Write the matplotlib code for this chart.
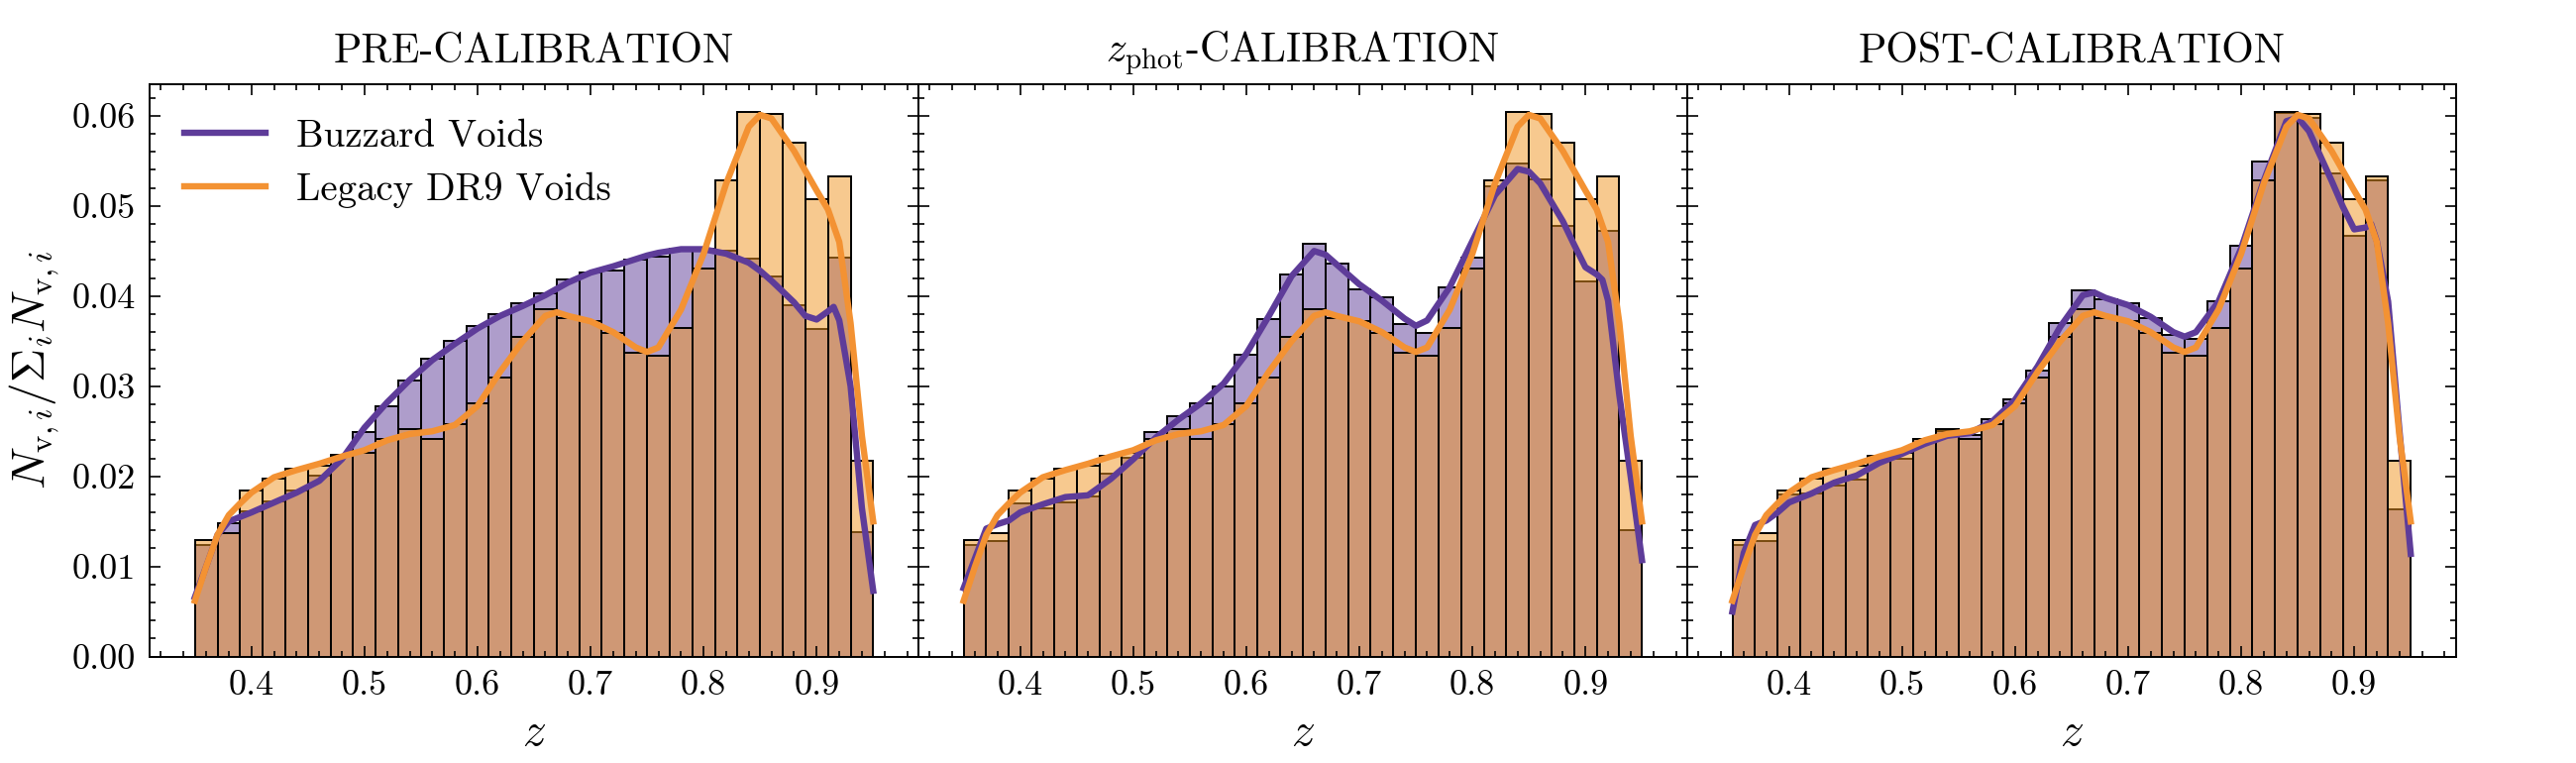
import numpy as np
import matplotlib
matplotlib.use("Agg")
import matplotlib.pyplot as plt
from matplotlib.colors import to_rgba
from matplotlib.ticker import MultipleLocator, FormatStrFormatter

plt.rcParams["font.family"] = ["cmr10", "DejaVu Serif"]
plt.rcParams["mathtext.fontset"] = "cm"
plt.rcParams["axes.formatter.use_mathtext"] = True

# histogram bins (z) and normalised void counts
edges = np.round(np.arange(0.35, 0.9501, 0.02), 2)
centres = 0.5 * (edges[:-1] + edges[1:])

legacy = [0.0129, 0.0137, 0.0184, 0.0198, 0.0209, 0.0212, 0.0223, 0.0226, 0.0241, 0.0252,
          0.0242, 0.0258, 0.0281, 0.0310, 0.0355, 0.0386, 0.0376, 0.0372, 0.0359, 0.0337,
          0.0334, 0.0365, 0.0430, 0.0528, 0.0604, 0.0602, 0.0570, 0.0507, 0.0533, 0.0217]
buzz_pre = [0.0124, 0.0148, 0.0161, 0.0172, 0.0184, 0.0201, 0.0224, 0.0249, 0.0278, 0.0306,
            0.0331, 0.0350, 0.0367, 0.0380, 0.0392, 0.0403, 0.0418, 0.0426, 0.0428, 0.0440,
            0.0444, 0.0452, 0.0452, 0.0450, 0.0441, 0.0422, 0.0390, 0.0364, 0.0443, 0.0138]
buzz_zphot = [0.0124, 0.0128, 0.0170, 0.0165, 0.0171, 0.0178, 0.0203, 0.0221, 0.0249, 0.0267,
              0.0281, 0.0300, 0.0335, 0.0374, 0.0424, 0.0458, 0.0436, 0.0408, 0.0399, 0.0369,
              0.0359, 0.0410, 0.0443, 0.0522, 0.0547, 0.0530, 0.0478, 0.0416, 0.0472, 0.0140]
buzz_post = [0.0124, 0.0128, 0.0180, 0.0181, 0.0190, 0.0196, 0.0222, 0.0220, 0.0241, 0.0250,
             0.0246, 0.0264, 0.0285, 0.0317, 0.0370, 0.0406, 0.0396, 0.0392, 0.0376, 0.0357,
             0.0353, 0.0394, 0.0456, 0.0549, 0.0603, 0.0598, 0.0536, 0.0467, 0.0528, 0.0163]

# smooth density curves
legacy_kde_z = [0.35, 0.36, 0.37, 0.38, 0.39, 0.40, 0.42, 0.44, 0.46, 0.48, 0.50, 0.52, 0.54,
                0.56, 0.58, 0.60, 0.62, 0.64, 0.66, 0.67, 0.68, 0.70, 0.72, 0.74, 0.75, 0.76,
                0.78, 0.80, 0.82, 0.84, 0.85, 0.86, 0.88, 0.90, 0.91, 0.92, 0.93, 0.94, 0.95]
legacy_kde = [0.0062, 0.0100, 0.0135, 0.0157, 0.0170, 0.0182, 0.0199, 0.0207, 0.0214, 0.0222,
              0.0229, 0.0240, 0.0247, 0.0250, 0.0257, 0.0278, 0.0316, 0.0350, 0.0378, 0.0382,
              0.0378, 0.0372, 0.0360, 0.0343, 0.0338, 0.0343, 0.0385, 0.0447, 0.0525, 0.0588,
              0.0601, 0.0597, 0.0561, 0.0517, 0.0496, 0.0460, 0.0370, 0.0245, 0.0150]

buzz_kde_z = [0.35, 0.36, 0.37, 0.38, 0.39, 0.40, 0.42, 0.44, 0.46, 0.48, 0.50, 0.52, 0.54,
              0.56, 0.58, 0.60, 0.62, 0.64, 0.66, 0.67, 0.68, 0.70, 0.72, 0.74, 0.75, 0.76,
              0.78, 0.80, 0.82, 0.84, 0.85, 0.86, 0.88, 0.89, 0.90, 0.91, 0.915, 0.92, 0.93,
              0.94, 0.95]
buzz_kde_pre = [0.0066, 0.0100, 0.0135, 0.0150, 0.0155, 0.0160, 0.0171, 0.0182, 0.0195, 0.0219,
                0.0254, 0.0282, 0.0307, 0.0329, 0.0347, 0.0364, 0.0378, 0.0389, 0.0401, 0.0408,
                0.0415, 0.0426, 0.0433, 0.0441, 0.0445, 0.0448, 0.0452, 0.0452, 0.0447, 0.0437,
                0.0428, 0.0417, 0.0393, 0.0378, 0.0374, 0.0383, 0.0388, 0.0373, 0.0300, 0.0165,
                0.0073]
buzz_kde_zphot = [0.0076, 0.0109, 0.0142, 0.0147, 0.0151, 0.0160, 0.0169, 0.0177, 0.0179, 0.0197,
                  0.0219, 0.0243, 0.0263, 0.0281, 0.0303, 0.0336, 0.0378, 0.0422, 0.0450, 0.0446,
                  0.0435, 0.0413, 0.0395, 0.0375, 0.0367, 0.0373, 0.0410, 0.0461, 0.0512, 0.0541,
                  0.0538, 0.0525, 0.0483, 0.0457, 0.0432, 0.0424, 0.0418, 0.0395, 0.0290, 0.0200,
                  0.0107]
buzz_kde_post = [0.0050, 0.0115, 0.0146, 0.0151, 0.0160, 0.0171, 0.0181, 0.0193, 0.0201, 0.0215,
                 0.0225, 0.0236, 0.0245, 0.0248, 0.0261, 0.0285, 0.0322, 0.0366, 0.0401, 0.0404,
                 0.0398, 0.0390, 0.0377, 0.0360, 0.0355, 0.0360, 0.0394, 0.0453, 0.0528, 0.0594,
                 0.0598, 0.0583, 0.0528, 0.0499, 0.0474, 0.0476, 0.0480, 0.0461, 0.0394, 0.0251,
                 0.0114]

titles = ["PRE-CALIBRATION", r"$z_{\rm phot}$-CALIBRATION", "POST-CALIBRATION"]
buzz_hists = [buzz_pre, buzz_zphot, buzz_post]
buzz_kdes = [buzz_kde_pre, buzz_kde_zphot, buzz_kde_post]

purple = "#5e3c99"
orange = "#f39233"
orange_fill = "#f09520"

fig, axes = plt.subplots(1, 3, figsize=(13, 3.85), dpi=200, sharey=True)
fig.subplots_adjust(left=0.0581, right=0.9534, bottom=0.1394, top=0.8896, wspace=0)

for i, ax in enumerate(axes):
    ax.hist(centres, bins=edges, weights=buzz_hists[i], facecolor=to_rgba(purple, 0.5),
            edgecolor="k", linewidth=0.7)
    ax.hist(centres, bins=edges, weights=legacy, facecolor=to_rgba(orange_fill, 0.5),
            edgecolor="k", linewidth=0.7)
    ax.plot(buzz_kde_z, buzz_kdes[i], color=purple, lw=2.3, label="Buzzard Voids",
            solid_joinstyle="round")
    ax.plot(legacy_kde_z, legacy_kde, color=orange, lw=2.3, label="Legacy DR9 Voids",
            solid_joinstyle="round")

    ax.set_xlim(0.31, 0.99)
    ax.set_ylim(0, 0.0635)
    ax.xaxis.set_major_locator(MultipleLocator(0.1))
    ax.xaxis.set_minor_locator(MultipleLocator(0.02))
    ax.yaxis.set_major_locator(MultipleLocator(0.01))
    ax.yaxis.set_minor_locator(MultipleLocator(0.002))
    ax.xaxis.set_major_formatter(FormatStrFormatter("%.1f"))
    ax.yaxis.set_major_formatter(FormatStrFormatter("%.2f"))
    ax.tick_params(which="both", direction="in", top=True, right=True, width=0.6,
                   labelsize=13)
    ax.tick_params(which="major", length=3.8, pad=5)
    ax.tick_params(which="minor", length=2)
    for s in ax.spines.values():
        s.set_linewidth(0.7)
    ax.set_title(titles[i], fontsize=15, pad=8)
    ax.set_xlabel(r"$z$", fontsize=17)

axes[0].set_ylabel(r"$N_{\mathrm{v},i}/\Sigma_i N_{\mathrm{v},i}$", fontsize=17)
axes[0].legend(loc="upper left", frameon=False, fontsize=14, handlelength=2.1,
               handletextpad=0.8, borderaxespad=0.5, labelspacing=0.45)

fig.savefig("out.png", dpi=200)
